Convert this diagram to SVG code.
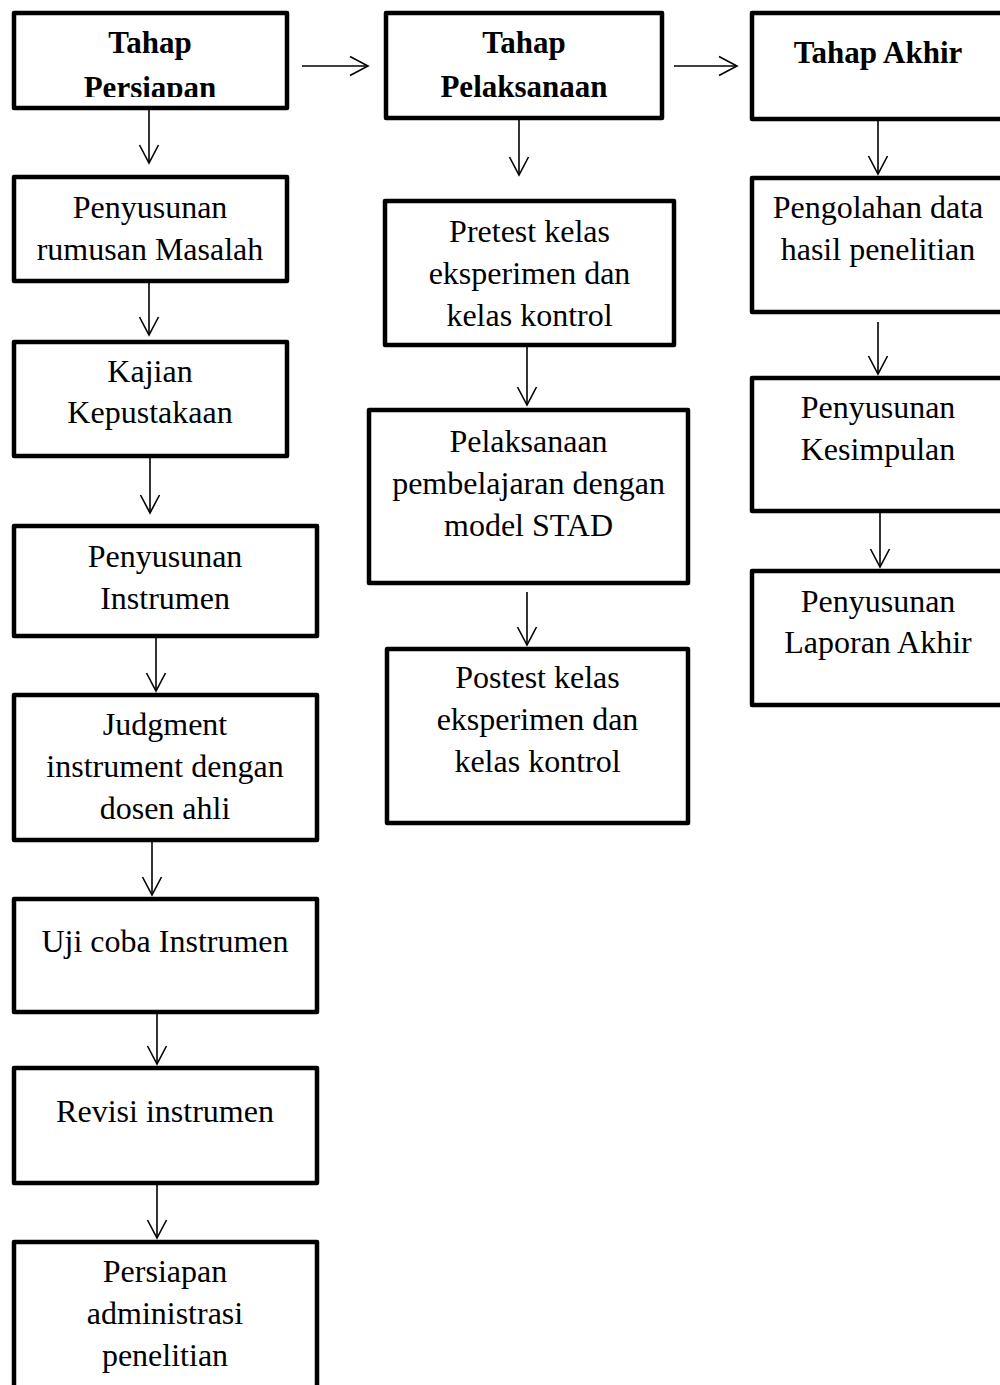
<svg xmlns="http://www.w3.org/2000/svg" width="1000" height="1385" viewBox="0 0 1000 1385">
<style>
.box{fill:#fff;stroke:#000;stroke-width:4.5;stroke-linejoin:round}
.t{font-family:"Liberation Serif","Times New Roman",serif;font-size:32px;fill:#000;text-anchor:middle}
.b{font-weight:bold;font-size:31px}
.c{fill:none;stroke:#000;stroke-width:1.6}
</style>
<defs>
<marker id="ah" markerUnits="userSpaceOnUse" markerWidth="24" markerHeight="24" viewBox="-20 -12 24 24" refX="0" refY="0" orient="auto" overflow="visible">
<path d="M-18,-9.5 L0,0 L-18,9.5" fill="none" stroke="#000" stroke-width="1.6"/>
</marker>
<clipPath id="clipT1"><rect x="14" y="13" width="273" height="84"/></clipPath>
</defs>
<rect width="1000" height="1385" fill="#fff"/>

<g id="connectors">
<line class="c" x1="302" y1="66" x2="368" y2="66" marker-end="url(#ah)"/>
<line class="c" x1="674" y1="66" x2="737" y2="66" marker-end="url(#ah)"/>
<line class="c" x1="149" y1="110" x2="149" y2="163" marker-end="url(#ah)"/>
<line class="c" x1="149" y1="283" x2="149" y2="335" marker-end="url(#ah)"/>
<line class="c" x1="150" y1="458" x2="150" y2="513" marker-end="url(#ah)"/>
<line class="c" x1="156" y1="638" x2="156" y2="691" marker-end="url(#ah)"/>
<line class="c" x1="152" y1="842" x2="152" y2="895" marker-end="url(#ah)"/>
<line class="c" x1="157" y1="1014" x2="157" y2="1064" marker-end="url(#ah)"/>
<line class="c" x1="157" y1="1185" x2="157" y2="1238" marker-end="url(#ah)"/>
<line class="c" x1="519" y1="120" x2="519" y2="175" marker-end="url(#ah)"/>
<line class="c" x1="527" y1="347" x2="527" y2="405" marker-end="url(#ah)"/>
<line class="c" x1="527" y1="592" x2="527" y2="645" marker-end="url(#ah)"/>
<line class="c" x1="878" y1="121" x2="878" y2="174" marker-end="url(#ah)"/>
<line class="c" x1="878" y1="322" x2="878" y2="374" marker-end="url(#ah)"/>
<line class="c" x1="880" y1="513" x2="880" y2="567" marker-end="url(#ah)"/>
</g>

<g id="tahap-persiapan">
<rect class="box" x="14" y="13" width="273" height="95"/>
<g clip-path="url(#clipT1)">
<text class="t b" x="150" y="53">Tahap</text>
<text class="t b" x="150" y="98">Persiapan</text>
</g>
</g>
<g id="rumusan-masalah">
<rect class="box" x="14" y="177" width="273" height="104"/>
<text class="t" x="150" y="218">Penyusunan</text>
<text class="t" x="150" y="260">rumusan Masalah</text>
</g>
<g id="kajian">
<rect class="box" x="14" y="342" width="273" height="114"/>
<text class="t" x="150" y="382">Kajian</text>
<text class="t" x="150" y="423">Kepustakaan</text>
</g>
<g id="penyusunan-instrumen">
<rect class="box" x="14" y="526" width="303" height="110"/>
<text class="t" x="165" y="567">Penyusunan</text>
<text class="t" x="165" y="609">Instrumen</text>
</g>
<g id="judgment">
<rect class="box" x="14" y="695" width="303" height="145"/>
<text class="t" x="165" y="735">Judgment</text>
<text class="t" x="165" y="777">instrument dengan</text>
<text class="t" x="165" y="819">dosen ahli</text>
</g>
<g id="uji-coba">
<rect class="box" x="14" y="899" width="303" height="113"/>
<text class="t" x="165" y="952">Uji coba Instrumen</text>
</g>
<g id="revisi">
<rect class="box" x="14" y="1068" width="303" height="115"/>
<text class="t" x="165" y="1122">Revisi instrumen</text>
</g>
<g id="persiapan-administrasi">
<rect class="box" x="14" y="1242" width="303" height="170"/>
<text class="t" x="165" y="1282">Persiapan</text>
<text class="t" x="165" y="1324">administrasi</text>
<text class="t" x="165" y="1366">penelitian</text>
</g>

<g id="tahap-pelaksanaan">
<rect class="box" x="386" y="13" width="276" height="105"/>
<text class="t b" x="524" y="53">Tahap</text>
<text class="t b" x="524" y="97">Pelaksanaan</text>
</g>
<g id="pretest">
<rect class="box" x="385" y="201" width="289" height="144"/>
<text class="t" x="529.5" y="242">Pretest kelas</text>
<text class="t" x="529.5" y="284">eksperimen dan</text>
<text class="t" x="529.5" y="326">kelas kontrol</text>
</g>
<g id="pelaksanaan-stad">
<rect class="box" x="369" y="410" width="319" height="173"/>
<text class="t" x="528.5" y="452">Pelaksanaan</text>
<text class="t" x="528.5" y="494">pembelajaran dengan</text>
<text class="t" x="528.5" y="536">model STAD</text>
</g>
<g id="postest">
<rect class="box" x="387" y="649" width="301" height="174"/>
<text class="t" x="537.5" y="688">Postest kelas</text>
<text class="t" x="537.5" y="730">eksperimen dan</text>
<text class="t" x="537.5" y="772">kelas kontrol</text>
</g>

<g id="tahap-akhir">
<rect class="box" x="752" y="13" width="260" height="106"/>
<text class="t b" x="878" y="63">Tahap Akhir</text>
</g>
<g id="pengolahan-data">
<rect class="box" x="752" y="178" width="260" height="134"/>
<text class="t" x="878" y="218">Pengolahan data</text>
<text class="t" x="878" y="260">hasil penelitian</text>
</g>
<g id="kesimpulan">
<rect class="box" x="752" y="378" width="260" height="133"/>
<text class="t" x="878" y="418">Penyusunan</text>
<text class="t" x="878" y="460">Kesimpulan</text>
</g>
<g id="laporan-akhir">
<rect class="box" x="752" y="571" width="260" height="134"/>
<text class="t" x="878" y="612">Penyusunan</text>
<text class="t" x="878" y="653">Laporan Akhir</text>
</g>
</svg>
